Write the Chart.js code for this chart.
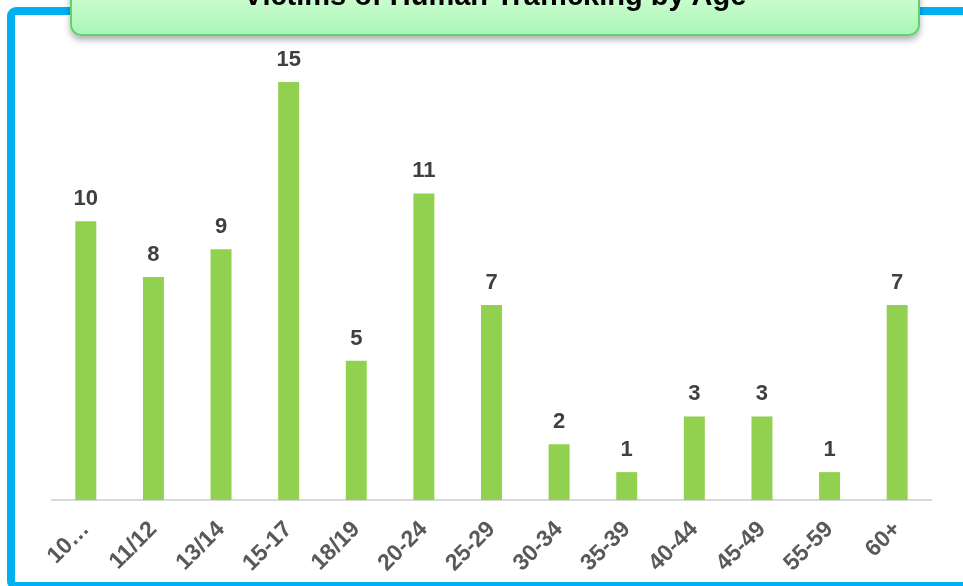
<!DOCTYPE html>
<html>
<head>
<meta charset="utf-8">
<script src="https://cdn.jsdelivr.net/npm/chart.js@4.4.0/dist/chart.umd.min.js"></script>
<style>
  html, body { margin: 0; padding: 0; background: #fff; overflow: hidden; }
  body { width: 963px; height: 586px; position: relative; font-family: "Liberation Sans", Arial, sans-serif; }
  #frame {
    position: absolute; left: 7px; top: 7px; right: -30px; bottom: -4px;
    border: 8px solid #00b0f0; border-radius: 9px;
  }
  #chart-box { position: absolute; left: 0; top: 0; width: 963px; height: 586px; }
  #title-box {
    position: absolute; left: 70px; top: -22px; width: 846px; height: 54px;
    border: 2px solid #63cf74; border-radius: 11px;
    background: linear-gradient(#dcffdc, #a9f6b5);
    box-shadow: 0 4px 6px rgba(0, 0, 0, 0.3);
    text-align: center;
  }
  #title-box span {
    position: absolute; left: 0; right: 0; top: -1px;
    font-weight: bold; font-size: 29px; color: #000;
  }
</style>
</head>
<body>
<div id="frame"></div>
<div id="chart-box"><canvas id="age-chart"></canvas></div>
<div id="title-box"><span>Victims of Human Trafficking by Age</span></div>
<script>
const BAR_GREEN = '#92d050';
const LABEL_GREY = '#595959';
const VALUE_GREY = '#404040';

// age groups and counts
const ageGroups = ['10…', '11/12', '13/14', '15-17', '18/19', '20-24', '25-29', '30-34', '35-39', '40-44', '45-49', '55-59', '60+'];
const victimCounts = [10, 8, 9, 15, 5, 11, 7, 2, 1, 3, 3, 1, 7];

/**
 * Writes the value above each bar (no datalabels plugin offline)
 */
const valueLabels = {
    id: 'valueLabels',
    afterDatasetsDraw(chart) {
        const ctx = chart.ctx;
        const meta = chart.getDatasetMeta(0);
        ctx.save();
        ctx.font = 'bold 22px "Liberation Sans", Arial, sans-serif';
        ctx.fillStyle = VALUE_GREY;
        ctx.textAlign = 'center';
        ctx.textBaseline = 'alphabetic';
        meta.data.forEach((bar, i) => {
            ctx.fillText(victimCounts[i], bar.x, bar.y - 16);
        });
        ctx.restore();
    }
};

const chartElement = document.getElementById('age-chart').getContext('2d');
new Chart(chartElement, {
    type: 'bar',
    data: {
        labels: ageGroups,
        datasets: [{
            label: 'Victims',
            data: victimCounts,
            backgroundColor: BAR_GREEN,
            borderWidth: 0,
            barPercentage: 0.31,
            categoryPercentage: 1
        }]
    },
    options: {
        responsive: true,
        maintainAspectRatio: false,
        animation: false,
        layout: { padding: { left: 52, right: 32, top: 54, bottom: 0 } },
        plugins: { legend: { display: false }, tooltip: { enabled: false } },
        scales: {
            y: { display: false, min: 0, max: 16 },
            x: {
                grid: { display: false, drawTicks: false },
                border: { display: true, color: '#d9d9d9', width: 2 },
                ticks: {
                    color: LABEL_GREY,
                    font: { family: '"Liberation Sans", Arial, sans-serif', size: 23, weight: 'bold' },
                    minRotation: 45,
                    maxRotation: 45,
                    padding: 16,
                    autoSkip: false
                },
                afterFit(scale) {
                    scale.paddingLeft = 0;
                    scale.paddingRight = 0;
                    scale.height = 86;
                }
            }
        }
    },
    plugins: [valueLabels]
});
</script>
</body>
</html>
